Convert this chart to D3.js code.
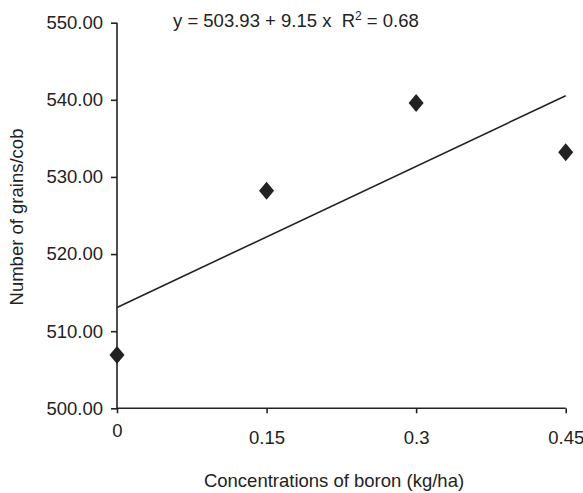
<!DOCTYPE html>
<html>
<head>
<meta charset="utf-8">
<script src="https://cdn.jsdelivr.net/npm/d3@7"></script>
<style>
  body { margin: 0; background: #fff; }
  svg { display: block; font-family: "Liberation Sans", Arial, sans-serif; }
</style>
</head>
<body>
<svg id="chart" width="583" height="493"></svg>
<script>
(() => {
    // data
    const boron = ["0", "0.15", "0.3", "0.45"];
    const grains = [506.9, 528.2, 539.6, 533.2];
    const yTicks = [500, 510, 520, 530, 540, 550];
    // trend line printed on the chart: y = a + b*x, x = 1..4
    const trend = {a: 503.93, b: 9.15, r2: 0.68};

    const svg = d3.select("svg#chart");
    const left = 117, right = 565.7, top = 22.7, bottom = 408.3;
    const fontSize = 18.5;

    const xScale = d3.scalePoint()
        .domain(boron)
        .range([left, right]);
    const yScale = d3.scaleLinear()
        .domain([500, 550])
        .range([bottom, top]);

    // axes
    const yAxis = svg.append("g")
        .attr("transform", `translate(${left},0)`)
        .call(d3.axisLeft(yScale)
            .tickValues(yTicks)
            .tickSize(6)
            .tickPadding(8)
            .tickFormat(d3.format(".2f")));
    const xAxis = svg.append("g")
        .attr("transform", `translate(0,${bottom})`)
        .call(d3.axisBottom(xScale)
            .tickSize(5)
            .tickPadding(14));

    [xAxis, yAxis].forEach(ax => {
        ax.select(".domain").attr("stroke", "#222").attr("stroke-width", 1.6);
        ax.selectAll(".tick line").attr("stroke", "#222").attr("stroke-width", 1.6);
        ax.selectAll(".tick text")
            .attr("fill", "#222")
            .style("font-size", fontSize + "px")
            .style("font-family", '"Liberation Sans", Arial, sans-serif');
    });
    // clean up domain path ends (no outer ticks)
    yAxis.select(".domain").attr("d", `M0,${top}V${bottom}`);
    xAxis.select(".domain").attr("d", `M${left},0H${right}`);
    // the "0" label sits a little higher in the original
    xAxis.selectAll(".tick text").attr("dy", (d, i) => i === 0 ? "10px" : "17px");

    // trend line
    const line = d3.line()
        .x(d => xScale(boron[d - 1]))
        .y(d => yScale(trend.a + trend.b * d));
    svg.append("path")
        .datum([1, boron.length])
        .attr("d", line)
        .attr("fill", "none")
        .attr("stroke", "#222")
        .attr("stroke-width", 1.6);

    // points
    const diamond = "M0,-9L7.5,0L0,9L-7.5,0Z";
    svg.append("g")
        .selectAll("path")
        .data(grains)
        .enter()
        .append("path")
        .attr("d", diamond)
        .attr("transform", (d, i) => `translate(${xScale(boron[i])},${yScale(d)})`)
        .attr("fill", "#222");

    // equation
    const eq = svg.append("text")
        .attr("x", 173)
        .attr("y", 27)
        .attr("fill", "#222")
        .style("font-size", fontSize + "px");
    eq.append("tspan").text(`y = ${trend.a} + ${trend.b} x  R`).attr("xml:space", "preserve");
    eq.append("tspan").text("2").attr("dy", -7).style("font-size", "12px");
    eq.append("tspan").text(` = ${trend.r2}`).attr("dy", 7);

    // axis titles
    svg.append("text")
        .attr("x", 334)
        .attr("y", 487)
        .attr("text-anchor", "middle")
        .attr("fill", "#222")
        .style("font-size", fontSize + "px")
        .text("Concentrations of boron (kg/ha)");

    svg.append("text")
        .attr("transform", "translate(23,217) rotate(-90)")
        .attr("text-anchor", "middle")
        .attr("fill", "#222")
        .style("font-size", fontSize + "px")
        .text("Number of grains/cob");
})();
</script>
</body>
</html>
